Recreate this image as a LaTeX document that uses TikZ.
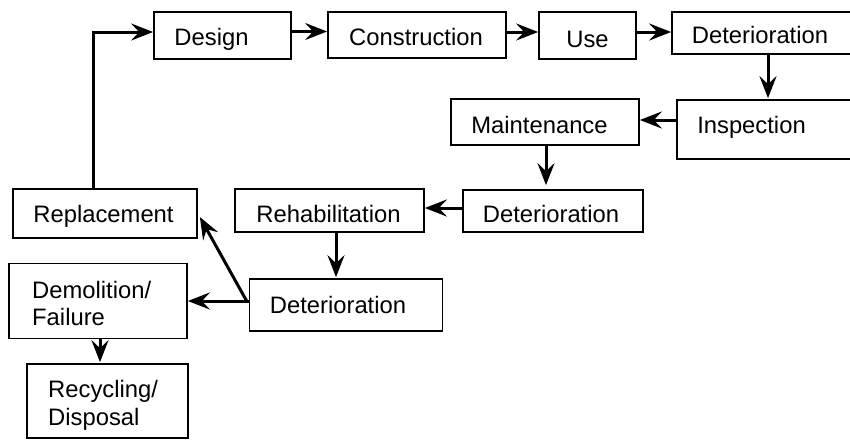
\documentclass[tikz,border=0pt]{standalone}
\usepackage{fontspec}
\setmainfont{Liberation Sans}
\usetikzlibrary{arrows.meta,calc}
\begin{document}
\begin{tikzpicture}[x=1pt,y=-1pt,
  box/.style={draw=black,line width=1.7pt,inner sep=0pt},
  txt/.style={inner sep=0pt,font=\fontsize{23.8}{27}\selectfont,anchor=base},
  arr/.style={line width=3pt,-{Stealth[length=22pt,width=17pt,inset=8pt]}}]
\useasboundingbox (0,0) rectangle (850,440);
% boxes
\node[box,minimum width=137,minimum height=47] (design) at (222.5,35.5) {};
\node[box,minimum width=178,minimum height=46] (constr) at (417,35) {};
\node[box,minimum width=97,minimum height=47] (use) at (587.5,35.5) {};
\node[box,minimum width=180,minimum height=42] (det1) at (762,33) {};
\node[box,minimum width=175,minimum height=59] (insp) at (764.5,129.5) {};
\node[box,minimum width=188,minimum height=46] (maint) at (545,122) {};
\node[box,minimum width=180,minimum height=42] (det2) at (553,211) {};
\node[box,minimum width=189,minimum height=43] (rehab) at (329.5,210.5) {};
\node[box,minimum width=184,minimum height=49] (repl) at (105,213.5) {};
\node[box,minimum width=178,minimum height=75] (demo) at (98,301) {};
\node[box,minimum width=193,minimum height=52] (det3) at (346,305) {};
\node[box,minimum width=161,minimum height=74] (recyc) at (107.5,401) {};
% texts
\node[txt] (tdesign) at (211.5,45) {Design};
\node[txt] (tconstr) at (416,45) {Construction};
\node[txt] (tuse) at (587.5,47) {Use};
\node[txt] (tdet1) at (760,43.5) {Deterioration};
\node[txt] (tinsp) at (751.5,133) {Inspection};
\node[txt] (tmaint) at (539.5,133) {Maintenance};
\node[txt] (tdet2) at (551,222) {Deterioration};
\node[txt] (trehab) at (328.5,222) {Rehabilitation};
\node[txt] (trepl) at (103.5,222) {Replacement};
\node[txt,anchor=base west] (tdemoa) at (32,298) {Demolition/};
\node[txt,anchor=base west] (tdemob) at (32,325) {Failure};
\node[txt,anchor=base west] (trecyca) at (48,397) {Recycling/};
\node[txt,anchor=base west] (trecycb) at (48,425) {Disposal};
\node[txt] (tdet3) at (338,313) {Deterioration};
% connectors
\coordinate (loop) at (93,0);
\draw[arr] (repl.north -| loop) |- ([shift={(0,-3.5)}]design.west);
\draw[arr] ([shift={(0,-4)}]design.east) -- ([shift={(0,-4)}]design.east -| constr.west);
\draw[arr] ([shift={(0,-3)}]constr.east) -- ([shift={(0,-3)}]constr.east -| use.west);
\draw[arr] ([shift={(0,-3.5)}]use.east) -- ([shift={(0,-3.5)}]use.east -| det1.west);
\draw[arr] ([shift={(6,0)}]det1.south) -- ([shift={(6,-1)}]det1.south |- insp.north);
\draw[arr] ([shift={(0,-9.5)}]insp.west) -- ([shift={(0,-9.5)}]insp.west -| maint.east);
\draw[arr] ([shift={(1,0)}]maint.south) -- ([shift={(1,-4)}]maint.south |- det2.north);
\draw[arr] ([shift={(0,-3)}]det2.west) -- ([shift={(0,-3)}]det2.west -| rehab.east);
\draw[arr] ([shift={(6.5,0)}]rehab.south) -- ([shift={(6.5,-1)}]rehab.south |- det3.north);
\coordinate (split) at ($(det3.west |- demo.east)+(-2,0)$);
\draw[arr] (det3.west |- demo.east) -- (demo.east);
\draw[arr,line cap=round] (split) -- ([shift={(2,3.5)}]repl.east);
\draw[arr] ([shift={(2,0)}]demo.south) -- ([shift={(2,-1)}]demo.south |- recyc.north);
\end{tikzpicture}
\end{document}
